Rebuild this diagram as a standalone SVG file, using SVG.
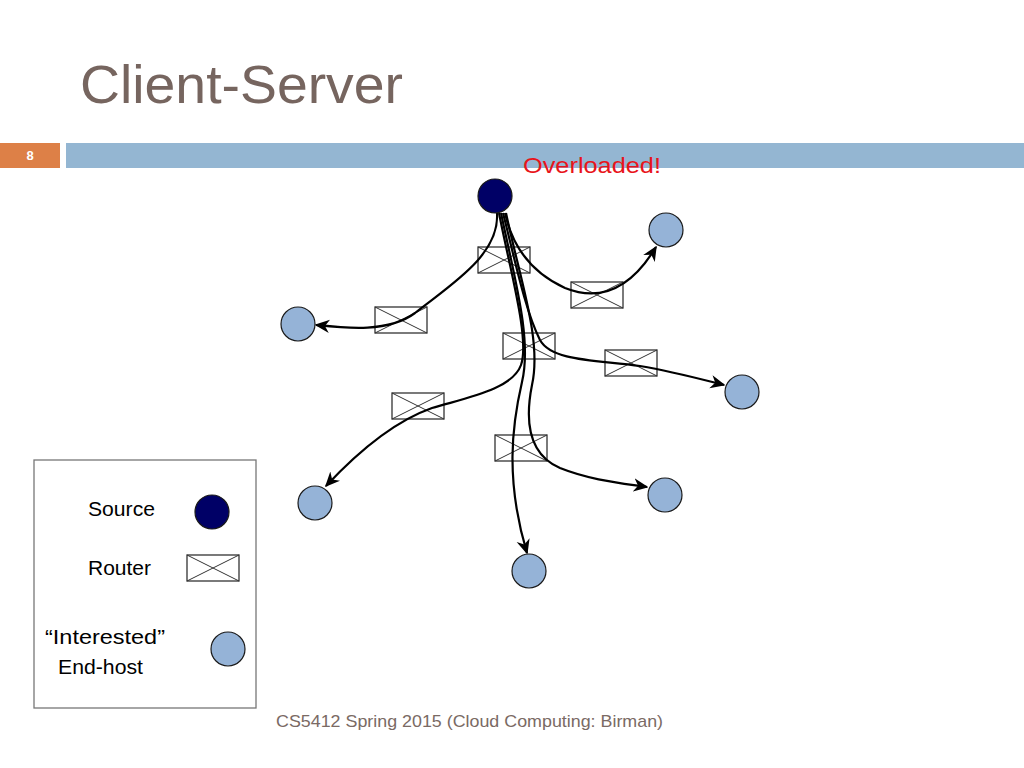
<svg xmlns="http://www.w3.org/2000/svg" width="1024" height="768" viewBox="0 0 1024 768">
<style>
.host{fill:#95b3d7;stroke:#1a1a1a;stroke-width:1.2}
.src{fill:#000066;stroke:#1a1a1a;stroke-width:1.2}
.edge{fill:none;stroke:#000000;stroke-width:2.2}
.lg{font-family:"Liberation Sans",Arial,sans-serif;font-size:21px;fill:#000000}
</style>
<defs>
<marker id="arr" viewBox="0 0 10 10" refX="9" refY="5" markerWidth="15" markerHeight="15" markerUnits="userSpaceOnUse" orient="auto">
<path d="M0,0.5 L10,5 L0,9.5 L3,5 z" fill="#000000"/>
</marker>
<g id="router-shape">
<rect x="0" y="0" width="52" height="26" fill="#ffffff" stroke="#333333" stroke-width="1.3"/>
<path d="M0,0 L52,26 M0,26 L52,0" stroke="#333333" stroke-width="1" fill="none"/>
</g>
</defs>
<rect width="1024" height="768" fill="#ffffff"/>
<text x="80" y="103" font-family="'Liberation Sans',Arial,sans-serif" font-size="54" fill="#76655f" textLength="323" lengthAdjust="spacingAndGlyphs">Client-Server</text>
<rect x="0" y="143" width="60" height="25" fill="#dd8047"/>
<text x="30" y="160" font-family="'Liberation Sans',Arial,sans-serif" font-size="13" font-weight="bold" fill="#ffffff" text-anchor="middle">8</text>
<rect x="66" y="143" width="958" height="25" fill="#94b6d2"/>
<text x="523" y="173" font-family="'Liberation Sans',Arial,sans-serif" font-size="22" fill="#e8141b" textLength="138" lengthAdjust="spacingAndGlyphs">Overloaded!</text>

<g id="routers">
<g id="router1"><use href="#router-shape" x="478" y="247"/></g>
<g id="router2"><use href="#router-shape" x="571" y="282"/></g>
<g id="router3"><use href="#router-shape" x="375" y="307"/></g>
<g id="router4"><use href="#router-shape" x="503" y="333"/></g>
<g id="router5"><use href="#router-shape" x="605" y="350"/></g>
<g id="router6"><use href="#router-shape" x="392" y="393"/></g>
<g id="router7"><use href="#router-shape" x="495" y="435"/></g>
</g>

<g id="connectors">
<path class="edge" marker-end="url(#arr)" d="M505 213 C512 245 530 272 565 288 C600 302 630 290 656 247"/>
<path class="edge" marker-end="url(#arr)" d="M497 213 C500 255 450 285 415 313 C388 333 345 328 316 325"/>
<path class="edge" marker-end="url(#arr)" d="M503 213 C515 260 525 310 540 340 C552 362 600 360 640 366 C675 372 700 379 724 385"/>
<path class="edge" marker-end="url(#arr)" d="M499 213 C510 270 530 340 521 365 C512 390 465 398 432 408 C392 422 355 455 326 486"/>
<path class="edge" marker-end="url(#arr)" d="M501 213 C515 280 532 340 522 382 C512 425 505 480 527 553"/>
<path class="edge" marker-end="url(#arr)" d="M506 213 C520 280 542 340 532 385 C524 425 530 455 560 468 C590 480 620 483 647 487"/>
</g>

<g id="source"><circle class="src" cx="495" cy="196" r="17"/></g>
<g id="host1"><circle class="host" cx="666" cy="230" r="17"/></g>
<g id="host2"><circle class="host" cx="298" cy="324" r="17"/></g>
<g id="host3"><circle class="host" cx="742" cy="392" r="17"/></g>
<g id="host4"><circle class="host" cx="315" cy="503" r="17"/></g>
<g id="host5"><circle class="host" cx="665" cy="495" r="17"/></g>
<g id="host6"><circle class="host" cx="529" cy="571" r="17"/></g>

<g id="legend">
<rect x="34" y="460" width="222" height="248" fill="#ffffff" stroke="#777777" stroke-width="1.3"/>
<text class="lg" x="88" y="516" textLength="67" lengthAdjust="spacingAndGlyphs">Source</text>
<circle class="src" cx="212" cy="512" r="17"/>
<text class="lg" x="88" y="575" textLength="63" lengthAdjust="spacingAndGlyphs">Router</text>
<use href="#router-shape" x="187" y="555"/>
<text class="lg" x="45" y="644" textLength="120" lengthAdjust="spacingAndGlyphs">“Interested”</text>
<text class="lg" x="58" y="674" textLength="85" lengthAdjust="spacingAndGlyphs">End-host</text>
<circle class="host" cx="228" cy="649" r="17"/>
</g>

<text x="276" y="727" font-family="'Liberation Sans',Arial,sans-serif" font-size="17" fill="#7a6a64" textLength="387" lengthAdjust="spacingAndGlyphs">CS5412 Spring 2015 (Cloud Computing: Birman)</text>
</svg>
